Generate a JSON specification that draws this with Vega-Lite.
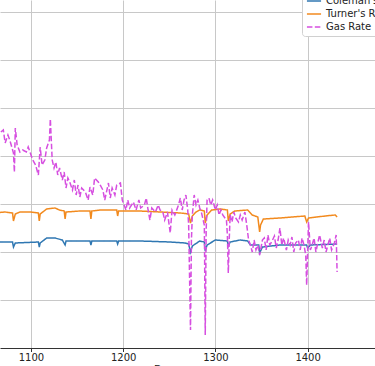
{
  "$schema": "https://vega.github.io/schema/vega-lite/v6.json",
  "width": 375,
  "height": 348,
  "padding": {"left": 0, "top": 0, "right": 0, "bottom": 18},
  "autosize": {"type": "none"},
  "background": "white",
  "config": {
    "view": {"stroke": null},
    "font": "DejaVu Sans"
  },
  "datasets": {
    "coleman": [
      {"day": 1060, "value": 106}, {"day": 1080, "value": 106}, {"day": 1081, "value": 101}, {"day": 1083, "value": 105},
      {"day": 1108, "value": 106}, {"day": 1109, "value": 101}, {"day": 1110, "value": 105}, {"day": 1117, "value": 110},
      {"day": 1126, "value": 110}, {"day": 1134, "value": 108}, {"day": 1137, "value": 103}, {"day": 1138, "value": 107},
      {"day": 1164, "value": 107}, {"day": 1165, "value": 103}, {"day": 1166, "value": 107}, {"day": 1193, "value": 107},
      {"day": 1194, "value": 104}, {"day": 1195, "value": 107}, {"day": 1218, "value": 107}, {"day": 1251, "value": 106},
      {"day": 1267, "value": 105}, {"day": 1271, "value": 104}, {"day": 1273, "value": 96}, {"day": 1275, "value": 102},
      {"day": 1283, "value": 107}, {"day": 1288, "value": 106}, {"day": 1289, "value": 97}, {"day": 1291, "value": 103},
      {"day": 1300, "value": 108}, {"day": 1313, "value": 107}, {"day": 1314, "value": 102}, {"day": 1316, "value": 106},
      {"day": 1327, "value": 108}, {"day": 1335, "value": 107}, {"day": 1338, "value": 103}, {"day": 1347, "value": 103},
      {"day": 1348, "value": 95}, {"day": 1351, "value": 101}, {"day": 1370, "value": 103}, {"day": 1399, "value": 103},
      {"day": 1400, "value": 100}, {"day": 1403, "value": 103}, {"day": 1432, "value": 104}
    ],
    "turner": [
      {"day": 1060, "value": 135}, {"day": 1072, "value": 136}, {"day": 1080, "value": 135}, {"day": 1081, "value": 127},
      {"day": 1083, "value": 134}, {"day": 1088, "value": 136}, {"day": 1099, "value": 136}, {"day": 1108, "value": 135},
      {"day": 1109, "value": 127}, {"day": 1110, "value": 134}, {"day": 1117, "value": 139}, {"day": 1126, "value": 140},
      {"day": 1131, "value": 138}, {"day": 1136, "value": 137}, {"day": 1137, "value": 129}, {"day": 1138, "value": 136},
      {"day": 1153, "value": 137}, {"day": 1164, "value": 137}, {"day": 1165, "value": 129}, {"day": 1166, "value": 137},
      {"day": 1175, "value": 138}, {"day": 1193, "value": 138}, {"day": 1194, "value": 132}, {"day": 1195, "value": 137},
      {"day": 1218, "value": 137}, {"day": 1240, "value": 136}, {"day": 1262, "value": 135}, {"day": 1271, "value": 134},
      {"day": 1273, "value": 125}, {"day": 1275, "value": 132}, {"day": 1279, "value": 136}, {"day": 1283, "value": 138},
      {"day": 1288, "value": 137}, {"day": 1289, "value": 125}, {"day": 1291, "value": 133}, {"day": 1296, "value": 138},
      {"day": 1305, "value": 139}, {"day": 1313, "value": 138}, {"day": 1314, "value": 127}, {"day": 1316, "value": 134},
      {"day": 1321, "value": 137}, {"day": 1335, "value": 138}, {"day": 1340, "value": 133}, {"day": 1346, "value": 131},
      {"day": 1348, "value": 116}, {"day": 1349, "value": 123}, {"day": 1352, "value": 129}, {"day": 1370, "value": 130},
      {"day": 1397, "value": 132}, {"day": 1399, "value": 126}, {"day": 1401, "value": 130}, {"day": 1419, "value": 132},
      {"day": 1430, "value": 133}, {"day": 1432, "value": 131}
    ],
    "gas": [
      {"day": 1060, "value": 212}, {"day": 1066, "value": 215}, {"day": 1070, "value": 218}, {"day": 1072, "value": 205},
      {"day": 1075, "value": 213}, {"day": 1077, "value": 208}, {"day": 1081, "value": 195}, {"day": 1082, "value": 176},
      {"day": 1083, "value": 220}, {"day": 1085, "value": 203}, {"day": 1088, "value": 196}, {"day": 1091, "value": 198},
      {"day": 1095, "value": 196}, {"day": 1097, "value": 201}, {"day": 1100, "value": 193}, {"day": 1102, "value": 188},
      {"day": 1105, "value": 183}, {"day": 1108, "value": 173}, {"day": 1110, "value": 201}, {"day": 1112, "value": 183},
      {"day": 1115, "value": 188}, {"day": 1117, "value": 200}, {"day": 1120, "value": 208}, {"day": 1121, "value": 229},
      {"day": 1123, "value": 188}, {"day": 1125, "value": 180}, {"day": 1127, "value": 186}, {"day": 1129, "value": 173},
      {"day": 1131, "value": 180}, {"day": 1134, "value": 168}, {"day": 1136, "value": 176}, {"day": 1138, "value": 160},
      {"day": 1140, "value": 170}, {"day": 1142, "value": 166}, {"day": 1145, "value": 158}, {"day": 1147, "value": 168},
      {"day": 1149, "value": 153}, {"day": 1151, "value": 163}, {"day": 1153, "value": 151}, {"day": 1155, "value": 160},
      {"day": 1159, "value": 156}, {"day": 1162, "value": 148}, {"day": 1164, "value": 161}, {"day": 1167, "value": 153},
      {"day": 1169, "value": 170}, {"day": 1173, "value": 166}, {"day": 1175, "value": 163}, {"day": 1178, "value": 158},
      {"day": 1180, "value": 148}, {"day": 1184, "value": 165}, {"day": 1186, "value": 150}, {"day": 1188, "value": 160},
      {"day": 1191, "value": 153}, {"day": 1193, "value": 163}, {"day": 1197, "value": 165}, {"day": 1199, "value": 148},
      {"day": 1201, "value": 143}, {"day": 1203, "value": 138}, {"day": 1205, "value": 148}, {"day": 1207, "value": 140},
      {"day": 1211, "value": 146}, {"day": 1214, "value": 138}, {"day": 1217, "value": 148}, {"day": 1219, "value": 140},
      {"day": 1223, "value": 143}, {"day": 1225, "value": 150}, {"day": 1227, "value": 138}, {"day": 1229, "value": 128},
      {"day": 1231, "value": 140}, {"day": 1235, "value": 136}, {"day": 1238, "value": 143}, {"day": 1240, "value": 138},
      {"day": 1243, "value": 136}, {"day": 1245, "value": 128}, {"day": 1248, "value": 136}, {"day": 1251, "value": 115},
      {"day": 1253, "value": 138}, {"day": 1256, "value": 133}, {"day": 1260, "value": 143}, {"day": 1262, "value": 150},
      {"day": 1264, "value": 138}, {"day": 1266, "value": 148}, {"day": 1268, "value": 153}, {"day": 1270, "value": 138},
      {"day": 1271, "value": 123}, {"day": 1273, "value": 18}, {"day": 1274, "value": 108}, {"day": 1275, "value": 133},
      {"day": 1277, "value": 153}, {"day": 1279, "value": 143}, {"day": 1281, "value": 148}, {"day": 1283, "value": 140},
      {"day": 1285, "value": 135}, {"day": 1288, "value": 123}, {"day": 1289, "value": 13}, {"day": 1290, "value": 118},
      {"day": 1291, "value": 148}, {"day": 1293, "value": 150}, {"day": 1295, "value": 143}, {"day": 1297, "value": 148},
      {"day": 1300, "value": 138}, {"day": 1302, "value": 143}, {"day": 1304, "value": 133}, {"day": 1306, "value": 138},
      {"day": 1308, "value": 133}, {"day": 1312, "value": 128}, {"day": 1313, "value": 113}, {"day": 1314, "value": 75},
      {"day": 1315, "value": 108}, {"day": 1316, "value": 133}, {"day": 1318, "value": 126}, {"day": 1320, "value": 136},
      {"day": 1322, "value": 130}, {"day": 1325, "value": 126}, {"day": 1327, "value": 133}, {"day": 1329, "value": 128},
      {"day": 1332, "value": 136}, {"day": 1334, "value": 123}, {"day": 1336, "value": 108}, {"day": 1338, "value": 103},
      {"day": 1340, "value": 96}, {"day": 1342, "value": 108}, {"day": 1344, "value": 98}, {"day": 1346, "value": 103},
      {"day": 1348, "value": 93}, {"day": 1351, "value": 108}, {"day": 1353, "value": 110}, {"day": 1355, "value": 98},
      {"day": 1357, "value": 113}, {"day": 1359, "value": 103}, {"day": 1361, "value": 106}, {"day": 1364, "value": 112},
      {"day": 1366, "value": 100}, {"day": 1368, "value": 108}, {"day": 1370, "value": 120}, {"day": 1372, "value": 103},
      {"day": 1374, "value": 110}, {"day": 1377, "value": 98}, {"day": 1379, "value": 108}, {"day": 1381, "value": 103},
      {"day": 1383, "value": 111}, {"day": 1385, "value": 96}, {"day": 1387, "value": 105}, {"day": 1390, "value": 108},
      {"day": 1392, "value": 98}, {"day": 1394, "value": 110}, {"day": 1396, "value": 103}, {"day": 1398, "value": 93},
      {"day": 1399, "value": 63}, {"day": 1401, "value": 126}, {"day": 1403, "value": 98}, {"day": 1405, "value": 103},
      {"day": 1407, "value": 110}, {"day": 1409, "value": 96}, {"day": 1411, "value": 105}, {"day": 1413, "value": 113},
      {"day": 1416, "value": 100}, {"day": 1418, "value": 108}, {"day": 1420, "value": 96}, {"day": 1422, "value": 103},
      {"day": 1424, "value": 110}, {"day": 1426, "value": 98}, {"day": 1429, "value": 105}, {"day": 1431, "value": 113},
      {"day": 1432, "value": 76}
    ]
  },
  "layer": [
    {
      "data": {"name": "coleman"},
      "transform": [{"calculate": "'Coleman\\'s Rate'", "as": "series"}],
      "mark": {"type": "line", "strokeWidth": 1.5, "clip": true},
      "encoding": {
        "x": {"field": "day", "type": "quantitative"},
        "y": {"field": "value", "type": "quantitative"},
        "color": {"field": "series", "type": "nominal"},
        "strokeDash": {"field": "series", "type": "nominal"}
      }
    },
    {
      "data": {"name": "turner"},
      "transform": [{"calculate": "'Turner\\'s Rate'", "as": "series"}],
      "mark": {"type": "line", "strokeWidth": 1.5, "clip": true},
      "encoding": {
        "x": {"field": "day", "type": "quantitative"},
        "y": {"field": "value", "type": "quantitative"},
        "color": {"field": "series", "type": "nominal"},
        "strokeDash": {"field": "series", "type": "nominal"}
      }
    },
    {
      "data": {"name": "gas"},
      "transform": [{"calculate": "'Gas Rate'", "as": "series"}],
      "mark": {"type": "line", "strokeWidth": 1.5, "clip": true},
      "encoding": {
        "x": {
          "field": "day", "type": "quantitative",
          "scale": {"domain": [1066.4, 1473.1], "nice": false, "zero": false},
          "axis": {
            "values": [1100, 1200, 1300, 1400], "format": "d",
            "grid": true, "gridColor": "#c8c8c8", "gridWidth": 1,
            "domainColor": "#333", "domainWidth": 1,
            "tickColor": "#333", "tickSize": 3.5,
            "labelFontSize": 10, "labelColor": "#222", "labelPadding": 1,
            "labelFont": "DejaVu Sans",
            "title": "Days", "titleFontSize": 10, "titleFontWeight": "normal",
            "titleColor": "#222", "titleX": 166, "titleY": 16
          }
        },
        "y": {
          "field": "value", "type": "quantitative",
          "scale": {"domain": [0, 348], "nice": false},
          "axis": {
            "values": [48, 96, 144, 192, 240, 288, 336],
            "grid": true, "gridColor": "#c8c8c8", "gridWidth": 1,
            "labels": false, "ticks": false, "domain": false, "title": null
          }
        },
        "color": {
          "field": "series", "type": "nominal",
          "scale": {
            "domain": ["Coleman's Rate", "Turner's Rate", "Gas Rate"],
            "range": ["#2f77b2", "#f28a1e", "#d64fe0"]
          },
          "legend": {
            "title": null, "orient": "none", "legendX": 302, "legendY": -11,
            "symbolType": "stroke", "symbolSize": 200, "symbolStrokeWidth": 1.5,
            "labelFontSize": 10, "labelFont": "DejaVu Sans", "labelColor": "#222",
            "rowPadding": -2, "padding": 4,
            "strokeColor": "#d0d0d0", "fillColor": "#ffffff", "cornerRadius": 3,
            "labelOffset": 4
          }
        },
        "strokeDash": {
          "field": "series", "type": "nominal",
          "scale": {
            "domain": ["Coleman's Rate", "Turner's Rate", "Gas Rate"],
            "range": [[1, 0], [1, 0], [5.5, 2.4]]
          },
          "legend": {
            "title": null, "orient": "none", "legendX": 302, "legendY": -11,
            "symbolType": "stroke", "symbolSize": 200, "symbolStrokeWidth": 1.5,
            "labelFontSize": 10, "labelFont": "DejaVu Sans", "labelColor": "#222",
            "rowPadding": -2, "padding": 4,
            "strokeColor": "#d0d0d0", "fillColor": "#ffffff", "cornerRadius": 3,
            "labelOffset": 4
          }
        }
      }
    }
  ]
}
